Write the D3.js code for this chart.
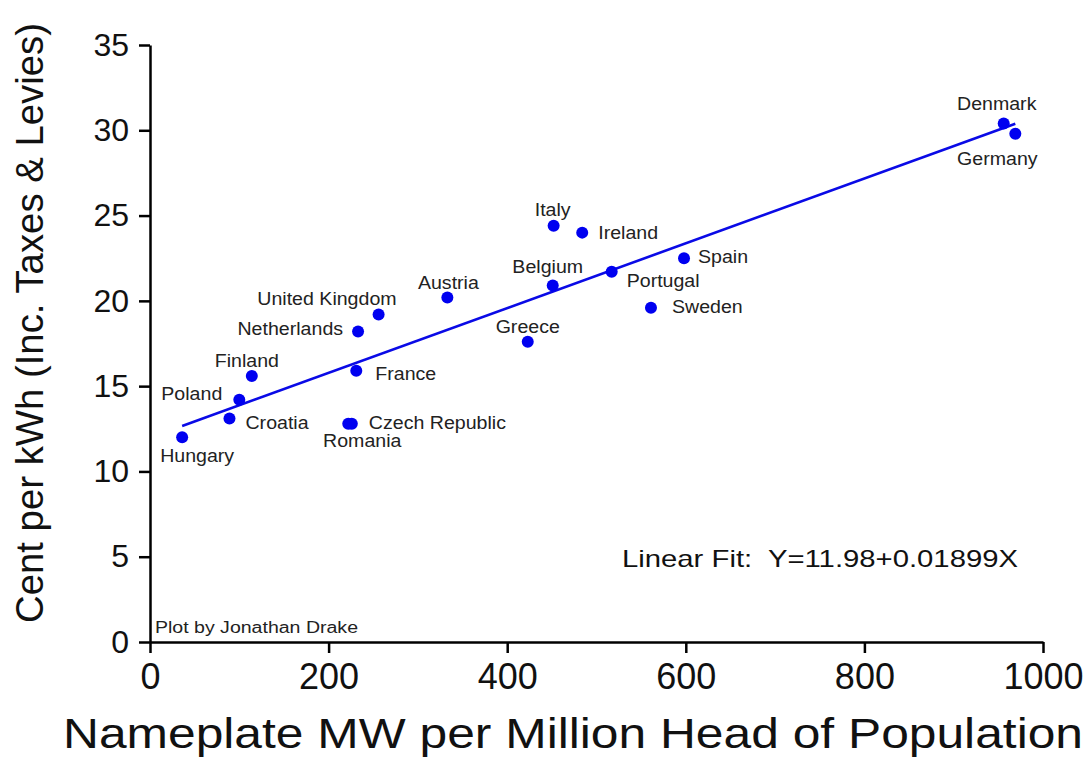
<!doctype html>
<html>
  <head>
    <meta charset="utf-8" />
    <title>Electricity price vs wind capacity</title>
    <script type="text/javascript" src="https://cdnjs.cloudflare.com/ajax/libs/d3/7.8.5/d3.min.js"></script>
    <style>
      body {
        margin:0;
        background:#fff;
        font-family:"Liberation Sans", Arial, sans-serif;
      }
      svg text {
        font-family:"Liberation Sans", Arial, sans-serif;
      }
    </style>
  </head>
  <body>
    <div id="chart"></div>
    <script type="text/javascript">

/*chart values*/
var countries = ["Denmark", "Germany", "Italy", "Ireland", "Spain", "Belgium", "Portugal",
  "Sweden", "Greece", "Austria", "United Kingdom", "Netherlands", "Finland", "France",
  "Poland", "Croatia", "Czech Republic", "Romania", "Hungary"];
var mw_per_million = [956, 969, 452, 484, 598, 451, 517, 561, 423, 333, 256, 233, 114, 231,
  100, 89, 226, 222, 36];
var cent_per_kwh = [30.4, 29.8, 24.4, 24.0, 22.5, 20.9, 21.7, 19.6, 17.6, 20.2, 19.2, 18.2,
  15.6, 15.9, 14.2, 13.1, 12.8, 12.8, 12.0];
var x_ticks = [0, 200, 400, 600, 800, 1000];
var y_ticks = [0, 5, 10, 15, 20, 25, 30, 35];
var fit_intercept = 11.98;
var fit_slope = 0.01899;

/*where each label sits relative to its dot: [dx, dy, anchor]*/
var label_place = {
  "Denmark": [-7, -13, "middle"],
  "Germany": [-18, 31, "middle"],
  "Italy": [-1, -10, "middle"],
  "Ireland": [16, 6, "start"],
  "Spain": [14, 5, "start"],
  "Belgium": [-5, -13, "middle"],
  "Portugal": [15, 15, "start"],
  "Sweden": [21, 5, "start"],
  "Greece": [0, -9, "middle"],
  "Austria": [1, -8, "middle"],
  "United Kingdom": [18, -10, "end"],
  "Netherlands": [-15, 3, "end"],
  "Finland": [-5, -9, "middle"],
  "France": [19, 9, "start"],
  "Poland": [-17, 0, "end"],
  "Croatia": [16, 10, "start"],
  "Czech Republic": [17, 5, "start"],
  "Romania": [14, 23, "middle"],
  "Hungary": [15, 25, "middle"]
};

var width = 1086, height = 783;

function main() {

  var svg = d3.select("#chart").append("svg")
    .attr("width", width)
    .attr("height", height);

  var x = d3.scaleLinear().domain([0, 1000]).range([150, 1043]);
  var y = d3.scaleLinear().domain([0, 35]).range([642, 45]);

  /*axes*/
  var gx = svg.append("g")
    .attr("transform", "translate(0," + y(0) + ")")
    .call(d3.axisBottom(x).tickValues(x_ticks).tickFormat(d3.format("d"))
      .tickSize(11).tickSizeOuter(0).tickPadding(10));
  gx.selectAll("text")
    .attr("font-size", 36)
    .attr("fill", "#111");

  var gy = svg.append("g")
    .attr("transform", "translate(" + x(0) + ",0)")
    .call(d3.axisLeft(y).tickValues(y_ticks).tickSize(11).tickSizeOuter(0).tickPadding(10));
  gy.selectAll("text")
    .attr("font-size", 32)
    .attr("fill", "#111");

  svg.selectAll(".domain, .tick line")
    .attr("stroke", "#000")
    .attr("stroke-width", 2.5);

  /*linear fit over the range of the data*/
  var xmin = d3.min(mw_per_million), xmax = d3.max(mw_per_million);
  svg.append("line")
    .attr("x1", x(xmin))
    .attr("y1", y(fit_intercept + fit_slope * xmin))
    .attr("x2", x(xmax))
    .attr("y2", y(fit_intercept + fit_slope * xmax))
    .attr("stroke", "#0a0ae6")
    .attr("stroke-width", 2.6);

  /*dots*/
  var pts = countries.map(function(c, i) {
    return {name: c, mw: mw_per_million[i], cent: cent_per_kwh[i]};
  });

  svg.selectAll("circle.dot")
    .data(pts)
    .enter()
    .append("circle")
    .attr("class", "dot")
    .attr("r", 6)
    .attr("fill", "#0000f0")
    .attr("cx", function(d) { return x(d.mw); })
    .attr("cy", function(d) { return y(d.cent); });

  /*labels, slightly widened like the original*/
  svg.selectAll("text.lab")
    .data(pts)
    .enter()
    .append("text")
    .attr("class", "lab")
    .attr("font-size", 17.5)
    .attr("fill", "#222")
    .attr("text-anchor", function(d) { return label_place[d.name][2]; })
    .attr("transform", function(d) {
      var p = label_place[d.name];
      return "translate(" + (x(d.mw) + p[0]) + "," + (y(d.cent) + p[1]) + ") scale(1.12,1)";
    })
    .text(function(d) { return d.name; });

  /*fit equation and credit*/
  svg.append("text")
    .attr("x", 622)
    .attr("y", 567)
    .attr("font-size", 24)
    .attr("fill", "#111")
    .attr("textLength", 396)
    .attr("lengthAdjust", "spacingAndGlyphs")
    .text("Linear Fit:\u00a0 Y=" + fit_intercept + "+" + fit_slope + "X");

  svg.append("text")
    .attr("x", 155)
    .attr("y", 633)
    .attr("font-size", 16)
    .attr("fill", "#222")
    .attr("textLength", 203)
    .attr("lengthAdjust", "spacingAndGlyphs")
    .text("Plot by Jonathan Drake");

  /*axis titles*/
  svg.append("text")
    .attr("x", 573)
    .attr("y", 748)
    .attr("text-anchor", "middle")
    .attr("font-size", 43)
    .attr("fill", "#111")
    .attr("textLength", 1020)
    .attr("lengthAdjust", "spacingAndGlyphs")
    .text("Nameplate MW per Million Head of Population");

  svg.append("text")
    .attr("transform", "translate(43,323) rotate(-90)")
    .attr("text-anchor", "middle")
    .attr("font-size", 38)
    .attr("fill", "#111")
    .attr("textLength", 600)
    .attr("lengthAdjust", "spacingAndGlyphs")
    .text("Cent per kWh (Inc. Taxes & Levies)");
}

document.addEventListener("DOMContentLoaded", main);

    </script>
  </body>
</html>
